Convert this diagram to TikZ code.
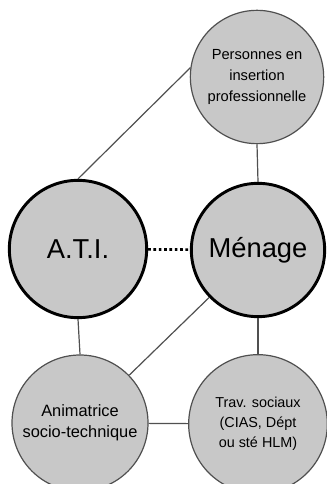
\documentclass[tikz,border=0pt]{standalone}
\usepackage{fontspec}
\setmainfont{Liberation Sans}
\definecolor{discfill}{RGB}{200,200,200}
\definecolor{discline}{RGB}{80,80,80}
\tikzset{every picture/.style={line width=0.75pt}}
\tikzset{
  disc/.style={circle, draw=discline, fill=discfill, line width=0.9pt, inner sep=0pt,
    minimum size=100pt, align=center, font=\fontsize{11}{16}\selectfont},
  keydisc/.style={disc, draw=black, line width=2.2pt, font=\fontsize{20.5}{24}\selectfont},
  link/.style={draw=discline, line width=0.9pt}
}
\begin{document}
\begin{tikzpicture}[x=0.75pt,y=0.75pt,yscale=-1,xscale=1]
\useasboundingbox (0,0) rectangle (326,484);

% Discs
\node [disc] (pers) at (257,77) {Personnes en\\insertion\\professionnelle};
\node [keydisc, minimum size=103pt] (ati) at (78,249) {A.T.I.};
\node [keydisc, minimum size=100pt] (menage) at (258,250) {Ménage};
\node [disc, minimum size=102pt, font=\fontsize{12.3}{16}\selectfont] (anim) at (80,423) {Animatrice\\socio-technique};
\node [disc, minimum size=104pt, font=\fontsize{10.8}{15}\selectfont] (trav) at (258,424) {Trav. sociaux\\(CIAS, Dépt\\ou sté HLM)};

% Links
\draw [link] (ati.north) -- (pers.172);
\draw [link] (pers.south) -- (menage.north);
\draw [link] (ati.south) -- (anim.north);
\draw [link] (menage.south) -- (trav.north);
\draw [link] (anim) -- (trav);
\draw [link] (menage) -- (anim);
\draw [line width=2pt, dash pattern=on 2pt off 2pt] (ati) -- (menage);

\end{tikzpicture}
\end{document}
